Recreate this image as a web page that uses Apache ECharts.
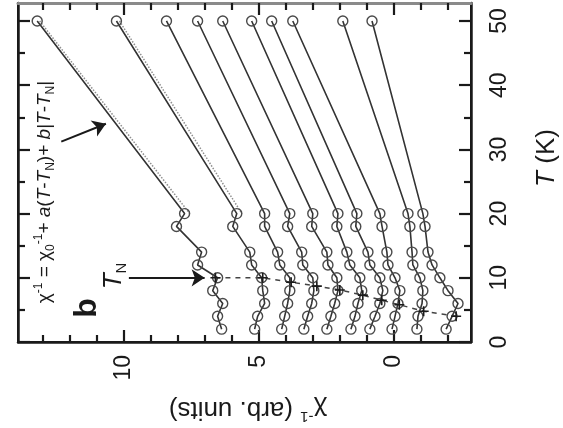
<!DOCTYPE html>
<html>
<head>
<meta charset="utf-8">
<script src="https://cdn.jsdelivr.net/npm/echarts@6/dist/echarts.min.js"></script>
<style>
  html, body { margin: 0; padding: 0; background: #fff; }
  #main { width: 563px; height: 428px; }
</style>
</head>
<body>
<div id="main"></div>
<script>
// Temperatures of the measured points (K), same order for every curve
let temps = [50, 20, 18, 14, 12, 10, 8, 6, 4, 2];

// Inverse susceptibility (arb. units), one array per curve, left to right
let curve1 = [13.19, 7.74, 8.04, 7.11, 7.26, 6.52, 6.70, 6.33, 6.52, 6.37];
let curve2 = [10.26, 5.81, 5.96, 5.33, 5.26, 4.89, 4.85, 4.78, 5.04, 5.15];
let curve3 = [8.41, 4.78, 4.78, 4.30, 4.22, 3.85, 3.85, 3.93, 4.04, 4.15];
let curve4 = [7.26, 3.85, 3.93, 3.41, 3.37, 3.00, 2.96, 3.04, 3.19, 3.33];
let curve5 = [6.33, 3.00, 3.04, 2.48, 2.44, 2.11, 2.07, 2.19, 2.33, 2.48];
let curve6 = [5.26, 2.07, 2.11, 1.74, 1.63, 1.26, 1.19, 1.33, 1.44, 1.59];
let curve7 = [4.52, 1.37, 1.41, 0.96, 0.89, 0.52, 0.41, 0.52, 0.70, 0.89];
let curve8 = [3.74, 0.52, 0.44, 0.26, 0.22, -0.04, -0.22, -0.15, -0.04, 0.07];
let curve9 = [1.89, -0.52, -0.59, -0.67, -0.70, -0.96, -1.07, -1.04, -0.89, -0.85];
let curve10 = [0.81, -1.07, -1.15, -1.26, -1.41, -1.70, -2.00, -2.37, -2.15, -1.93];
let curves = [curve1, curve2, curve3, curve4, curve5, curve6, curve7, curve8, curve9, curve10];

// T_N of each curve (dashed line with crosses)
let tnChi = [6.6, 4.85, 3.8, 2.85, 2.0, 1.15, 0.45, -0.2, -1.1, -2.3];
let tnT = [10, 10, 9.3, 8.7, 8.1, 7.3, 6.5, 5.8, 4.8, 4.0];

// Dotted fit lines for the two left curves
let fitT = [50, 20];
let fit1Chi = [13.1, 7.55];
let fit2Chi = [10.15, 5.62];

// Axis ranges and ticks
let chiMin = -2.85, chiMax = 13.9;
let tMin = 0, tMax = 52.8;
let chiLabels = [0, 5, 10];
let chiMinor = [-2, -1, 1, 2, 3, 4, 6, 7, 8, 9, 11, 12, 13];
let tLabels = [0, 10, 20, 30, 40, 50];
let tMinor = [5, 15, 25, 35, 45];

let ink = "#1a1a1a";
let font = "Liberation Sans";

// builds one axis of the frame; everything hidden unless asked
function axis(extra) {
  return Object.assign(
    {
      type: "value",
      axisLine: { show: false, onZero: false },
      axisTick: { show: false },
      axisLabel: { show: false },
      splitLine: { show: false },
    },
    extra
  );
}

function ticks(values, len) {
  return {
    show: true,
    inside: true,
    length: len,
    customValues: values,
    lineStyle: { color: ink, width: 2.2 },
  };
}

let pairs = (xs, ys) => xs.map((x, i) => [x, ys[i]]);

let myChart = echarts.init(document.getElementById("main"));

let chiRange = { min: chiMin, max: chiMax, inverse: true };
let tRange = { min: tMin, max: tMax };

let option = {
  animation: false,
  backgroundColor: "#fff",
  textStyle: { fontFamily: font },
  grid: {
    left: 18,
    right: 92,
    top: 3,
    bottom: 86,
    show: true,
    borderColor: ink,
    borderWidth: 2,
  },
  xAxis: [
    axis(Object.assign({}, chiRange, {
      position: "bottom",
      axisLine: { show: true, onZero: false, lineStyle: { color: ink, width: 2.5 } },
      axisTick: ticks(chiLabels, 12),
      axisLabel: {
        show: true,
        customValues: chiLabels,
        rotate: 90,
        margin: 13,
        fontSize: 23,
        color: ink,
        fontFamily: font,
      },
    })),
    axis(Object.assign({}, chiRange, { position: "bottom", axisTick: ticks(chiMinor, 7) })),
    axis(Object.assign({}, chiRange, {
      position: "top",
      axisLine: { show: true, onZero: false, lineStyle: { color: "#8a8a8a", width: 3 } },
      axisTick: ticks(chiLabels, 12),
    })),
    axis(Object.assign({}, chiRange, { position: "top", axisTick: ticks(chiMinor, 7) })),
  ],
  yAxis: [
    axis(Object.assign({}, tRange, {
      position: "right",
      axisLine: { show: true, onZero: false, lineStyle: { color: ink, width: 2.5 } },
      axisTick: ticks(tLabels, 12),
      axisLabel: {
        show: true,
        customValues: tLabels,
        rotate: 90,
        margin: 17,
        fontSize: 23,
        color: ink,
        fontFamily: font,
      },
    })),
    axis(Object.assign({}, tRange, { position: "right", axisTick: ticks(tMinor, 7) })),
    axis(Object.assign({}, tRange, {
      position: "left",
      axisLine: { show: true, onZero: false, lineStyle: { color: ink, width: 2.5 } },
      axisTick: ticks(tLabels, 12),
    })),
    axis(Object.assign({}, tRange, { position: "left", axisTick: ticks(tMinor, 7) })),
  ],
  series: [
    // dotted fits first so the data sit on top
    ...[fit1Chi, fit2Chi].map((fit) => ({
      type: "line",
      data: pairs(fit, fitT),
      symbol: "none",
      silent: true,
      lineStyle: { color: "#8f8f8f", width: 1.5, type: "dotted" },
      z: 1,
    })),
    ...curves.map((c) => ({
      type: "line",
      data: pairs(c, temps),
      symbol: "circle",
      symbolSize: 10,
      silent: true,
      lineStyle: { color: "#333", width: 1.6 },
      itemStyle: { color: "rgba(0,0,0,0)", borderColor: "#4a4a4a", borderWidth: 1.4 },
      z: 2,
    })),
    {
      type: "line",
      data: pairs(tnChi, tnT),
      symbol: "path://M0,4.2L10,4.2L10,5.8L0,5.8Z M4.2,0L5.8,0L5.8,10L4.2,10Z",
      symbolSize: 10,
      silent: true,
      lineStyle: { color: "#444", width: 1.5, type: [5, 5] },
      itemStyle: { color: ink },
      z: 3,
      markLine: {
        silent: true,
        symbol: ["none", "arrow"],
        symbolSize: 13,
        label: { show: false },
        lineStyle: { color: ink, width: 2, type: "solid" },
        data: [
          [{ coord: [9.8, 10] }, { coord: [7.0, 10] }],
          [{ coord: [12.3, 31.2] }, { coord: [10.65, 34] }],
        ],
      },
    },
  ],
  graphic: [
    {
      type: "text",
      x: 87,
      y: 308,
      rotation: Math.PI / 2,
      style: {
        text: "b",
        fontSize: 32,
        fontWeight: "bold",
        fontFamily: font,
        fill: ink,
        align: "center",
        verticalAlign: "middle",
      },
    },
    {
      type: "text",
      x: 114,
      y: 276,
      rotation: Math.PI / 2,
      style: {
        text: "{t|T}{s|N}",
        align: "center",
        verticalAlign: "middle",
        rich: {
          t: { fontSize: 26, fontStyle: "italic", fontFamily: font, fill: ink, lineHeight: 30 },
          s: { fontSize: 15, fontFamily: font, fill: ink, verticalAlign: "bottom", lineHeight: 15 },
        },
      },
    },
    {
      type: "text",
      x: 45,
      y: 192,
      rotation: Math.PI / 2,
      style: {
        text:
          "{m|χ}{sup|-1}{m| = χ}{sub|0}{sup|-1}{m|+ }{i|a}{m|(}{i|T}{m|-}{i|T}{sub|N}{m|)+ }{i|b}{m||}{i|T}{m|-}{i|T}{sub|N}{m||}",
        align: "center",
        verticalAlign: "middle",
        rich: {
          m: { fontSize: 19, fontFamily: font, fill: ink, lineHeight: 24 },
          i: { fontSize: 19, fontStyle: "italic", fontFamily: font, fill: ink, lineHeight: 24 },
          sup: { fontSize: 12, fontFamily: font, fill: ink, verticalAlign: "top", lineHeight: 12 },
          sub: { fontSize: 12, fontFamily: font, fill: ink, verticalAlign: "bottom", lineHeight: 12 },
        },
      },
    },
    {
      type: "text",
      x: 547,
      y: 158,
      rotation: Math.PI / 2,
      style: {
        text: "{i|T}{m| (K)}",
        align: "center",
        verticalAlign: "middle",
        rich: {
          i: { fontSize: 26, fontStyle: "italic", fontFamily: font, fill: ink },
          m: { fontSize: 26, fontFamily: font, fill: ink },
        },
      },
    },
    {
      type: "text",
      x: 248,
      y: 409,
      rotation: Math.PI,
      style: {
        text: "{m|χ}{sup|-1}{m| (arb. units)}",
        align: "center",
        verticalAlign: "middle",
        rich: {
          m: { fontSize: 26, fontFamily: font, fill: ink, lineHeight: 30 },
          sup: { fontSize: 15, fontFamily: font, fill: ink, verticalAlign: "top", lineHeight: 15 },
        },
      },
    },
  ],
};

myChart.setOption(option);
window.addEventListener("resize", function () {
  myChart.resize();
});
</script>
</body>
</html>
